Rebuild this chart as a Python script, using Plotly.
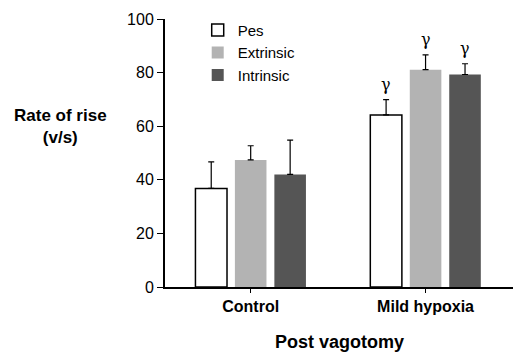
import plotly.graph_objects as go

categories = ["Control", "Mild hypoxia"]
pes = [36.8, 64.2]
pes_err = [9.9, 5.7]
extrinsic = [47.4, 81.1]
extrinsic_err = [5.3, 5.5]
intrinsic = [42.0, 79.3]
intrinsic_err = [12.8, 4.0]
y_ticks = [0, 20, 40, 60, 80, 100]

FONT = "Liberation Sans, Arial, sans-serif"

fig = go.Figure()
fig.add_bar(name="Pes", x=categories, y=pes,
            marker=dict(color="white", line=dict(color="black", width=1.5)),
            error_y=dict(type="data", array=pes_err, symmetric=False, arrayminus=[0, 0],
                         color="black", thickness=1.2, width=3))
fig.add_bar(name="Extrinsic", x=categories, y=extrinsic,
            marker=dict(color="#b3b3b3", line=dict(width=0)),
            error_y=dict(type="data", array=extrinsic_err, symmetric=False, arrayminus=[0, 0],
                         color="black", thickness=1.2, width=3))
fig.add_bar(name="Intrinsic", x=categories, y=intrinsic,
            marker=dict(color="#555555", line=dict(width=0)),
            error_y=dict(type="data", array=intrinsic_err, symmetric=False, arrayminus=[0, 0],
                         color="black", thickness=1.2, width=3))

# significance markers (Mild hypoxia group)
for vals, errs, shift in [(pes, pes_err, -39.5), (extrinsic, extrinsic_err, 0), (intrinsic, intrinsic_err, 39.5)]:
    fig.add_annotation(x=categories[1], y=vals[1] + errs[1], xref="x", yref="y",
                       text="γ", showarrow=False, xshift=shift, yanchor="bottom", yshift=4,
                       font=dict(family="DejaVu Serif, serif", size=16, color="black"))

fig.add_annotation(text="<b>Rate of rise<br>(v/s)</b>", xref="paper", yref="paper",
                   x=-0.299, y=0.6, showarrow=False, xanchor="center", yanchor="middle",
                   font=dict(family=FONT, size=17, color="black"))
fig.add_annotation(text="<b>Post vagotomy</b>", xref="paper", yref="paper",
                   x=0.502, y=-0.207, showarrow=False, xanchor="center", yanchor="middle",
                   font=dict(family=FONT, size=18, color="black"))

fig.update_layout(
    width=513, height=354,
    margin=dict(l=165, r=0, t=19, b=67),
    paper_bgcolor="white", plot_bgcolor="white",
    barmode="group", bargap=0.323, bargroupgap=0.2,
    font=dict(family=FONT, size=16, color="black"),
    showlegend=True,
    legend=dict(x=0.094, y=1.02, xanchor="left", yanchor="top", bgcolor="rgba(0,0,0,0)",
                font=dict(size=15), tracegroupgap=0, itemwidth=30),
)
fig.update_xaxes(range=[-0.49, 1.5], showline=True, linecolor="black", linewidth=2,
                 ticks="outside", ticklen=4, tickwidth=1, tickcolor="black",
                 tickvals=categories, ticktext=["<b>Control</b>", "<b>Mild hypoxia</b>"],
                 tickfont=dict(size=16), showgrid=False, zeroline=False)
fig.update_yaxes(range=[0, 100], tickvals=y_ticks, showline=True, linecolor="black", linewidth=2,
                 ticks="outside", ticklen=6, tickwidth=1.2, tickcolor="black",
                 tickfont=dict(size=16), showgrid=False, zeroline=False)

fig.write_html("out.html")
